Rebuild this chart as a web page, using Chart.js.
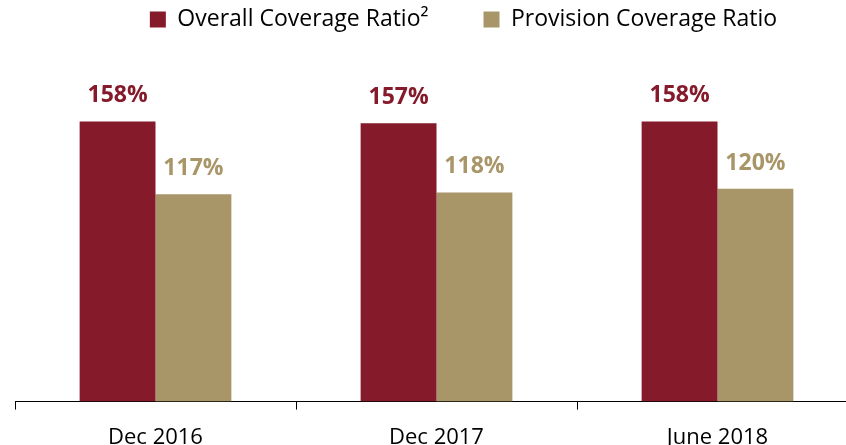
<!DOCTYPE html>
<html>
<head>
<meta charset="utf-8">
<script src="https://cdn.jsdelivr.net/npm/chart.js@4"></script>
<style>
  html, body { margin: 0; padding: 0; background: #fff; overflow: hidden; }
  #wrap { width: 846px; height: 445px; overflow: hidden; }
</style>
</head>
<body>
<div id="wrap"><canvas id="chart" width="860" height="470"></canvas></div>
<script>
const categories = ['Dec 2016', 'Dec 2017', 'June 2018'];
const overallCoverage = [158, 157, 158];
const provisionCoverage = [117, 118, 120];

const red = '#841A2A';
const tan = '#A99668';
const font = '"Open Sans", sans-serif';

// draws the percentage above each bar
const valueLabels = {
  id: 'valueLabels',
  afterDatasetsDraw(chart) {
    const ctx = chart.ctx;
    ctx.save();
    ctx.font = 'bold 23px ' + font;
    ctx.textAlign = 'center';
    ctx.textBaseline = 'alphabetic';
    chart.data.datasets.forEach((ds, i) => {
      chart.getDatasetMeta(i).data.forEach((bar, j) => {
        ctx.fillStyle = ds.backgroundColor;
        ctx.fillText(ds.data[j] + '%', bar.x, bar.y - 19);
      });
    });
    ctx.restore();
  }
};

// legend needs a fixed height and sits a bit right of centre
const legendFix = {
  id: 'legendFix',
  beforeInit(chart) {
    const fit = chart.legend.fit;
    chart.legend.fit = function () {
      fit.call(this);
      this.height = 94;
    };
  },
  afterLayout(chart) {
    chart.legend.left += 27;
    chart.legend.right += 27;
  }
};

new Chart(document.getElementById('chart'), {
  type: 'bar',
  data: {
    labels: categories,
    datasets: [
      { label: 'Overall Coverage Ratio²', data: overallCoverage, backgroundColor: red },
      { label: 'Provision Coverage Ratio', data: provisionCoverage, backgroundColor: tan }
    ]
  },
  options: {
    responsive: false,
    animation: false,
    layout: { padding: { left: 15, right: 2, top: -47, bottom: 4 } },
    datasets: { bar: { categoryPercentage: 0.54, barPercentage: 1.0 } },
    plugins: {
      legend: {
        position: 'top',
        labels: {
          boxWidth: 16,
          boxHeight: 16,
          padding: 55,
          color: '#000',
          font: { size: 23, family: font }
        }
      },
      tooltip: { enabled: false }
    },
    scales: {
      x: {
        grid: { display: true, drawOnChartArea: false, offset: true, color: '#000', tickLength: 8 },
        border: { color: '#000', width: 1 },
        ticks: { color: '#000', padding: 15, font: { size: 22, family: font } }
      },
      y: {
        display: false,
        min: 0,
        max: 200
      }
    }
  },
  plugins: [valueLabels, legendFix]
});
</script>
</body>
</html>
